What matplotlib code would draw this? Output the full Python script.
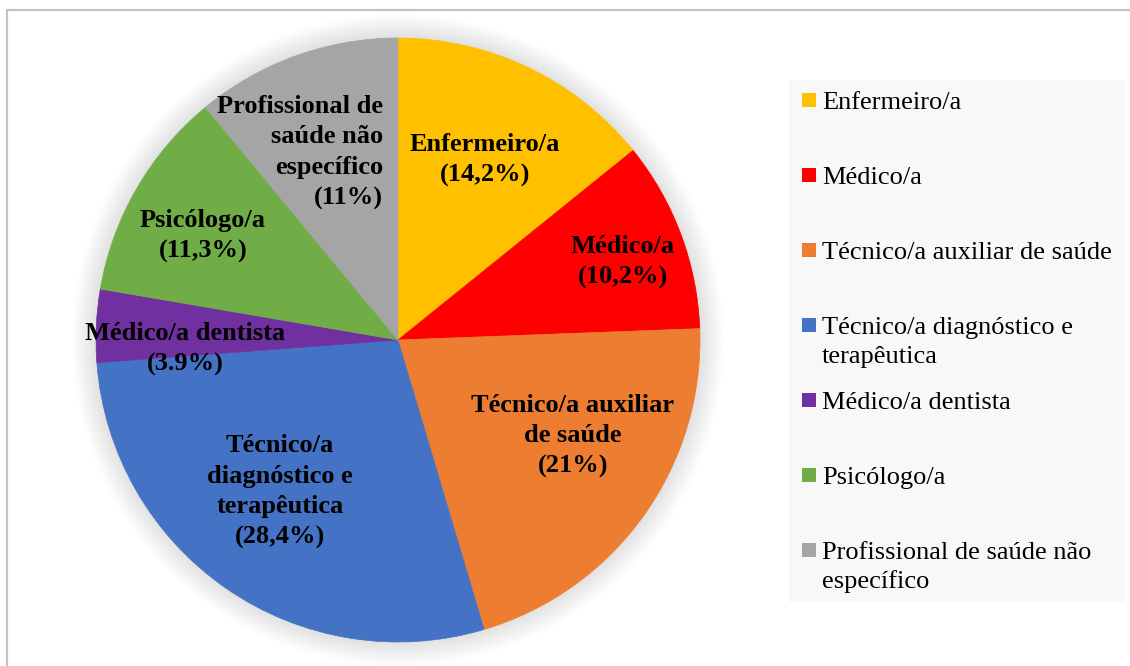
import matplotlib
matplotlib.use("Agg")
import matplotlib.pyplot as plt
from matplotlib.patches import Rectangle, Circle
from matplotlib.transforms import offset_copy

# ---------------- data ----------------
categories = ["Enfermeiro/a", "Médico/a", "Técnico/a auxiliar de saúde",
              "Técnico/a diagnóstico e terapêutica", "Médico/a dentista",
              "Psicólogo/a", "Profissional de saúde não específico"]
values = [14.2, 10.2, 21.0, 28.4, 3.9, 11.3, 11.0]
pct_labels = ["14,2%", "10,2%", "21%", "28,4%", "3.9%", "11,3%", "11%"]
slice_label_lines = [["Enfermeiro/a"], ["Médico/a"],
                     ["Técnico/a auxiliar", "de saúde"],
                     ["Técnico/a", "diagnóstico e", "terapêutica"],
                     ["Médico/a dentista"], ["Psicólogo/a"],
                     ["Profissional de", "saúde não", "específico"]]
legend_lines = [["Enfermeiro/a"], ["Médico/a"], ["Técnico/a auxiliar de saúde"],
                ["Técnico/a diagnóstico e", "terapêutica"], ["Médico/a dentista"],
                ["Psicólogo/a"], ["Profissional de saúde não", "específico"]]
colors = ["#FFC000", "#FF0000", "#ED7D31", "#4472C4", "#7030A0", "#70AD47", "#A5A5A5"]

# ---------------- layout / style ----------------
W, H = 1130, 666
FONT = "Liberation Serif"
FS = 19
# label anchors (first-line baseline, pie radius units) and alignment
label_pos = [(0.288, 0.626, "center"), (0.745, 0.288, "center"),
             (0.579, -0.238, "center"), (-0.391, -0.371, "center"),
             (-0.705, 0.000, "center"), (-0.646, 0.374, "center"),
             (-0.050, 0.752, "right")]
LINE_STEP = 30.5

fig = plt.figure(figsize=(W / 100, H / 100), dpi=100)
fig.patch.set_facecolor("white")

bg = fig.add_axes([0, 0, 1, 1], zorder=0)
bg.set_xlim(0, W)
bg.set_ylim(H, 0)
bg.axis("off")

# chart-area border (top and left visible)
bg.plot([6.5, 6.5, W + 10], [H + 10, 9.5, 9.5], color="#c4c4c4", lw=1.6,
        solid_joinstyle="miter", clip_on=False)

# pie
cx, cy, R = 398, 340, 302
half = 332
ax = fig.add_axes([(cx - half) / W, (H - cy - half) / H, 2 * half / W, 2 * half / H], zorder=1)
ax.patch.set_alpha(0)
wedges, _ = ax.pie(values, colors=colors, startangle=90, counterclock=False,
                   radius=1.0, wedgeprops=dict(linewidth=0))
for w in wedges:
    w.set_edgecolor(w.get_facecolor())
    w.set_linewidth(0.5)
    w.set_zorder(2)

# soft glow around the pie
n_glow = 30
for k in range(n_glow):
    r = 1.0 + 0.08 * (1 - k / n_glow)
    ax.add_patch(Circle((0, 0), r, facecolor="black", edgecolor="none",
                        alpha=0.0045, zorder=0))

ax.set_xlim(-half / R, half / R)
ax.set_ylim(-half / R, half / R)
ax.set_aspect("equal")
ax.axis("off")

# slice labels
for lines, pct, (x0, y0, ha) in zip(slice_label_lines, pct_labels, label_pos):
    all_lines = lines + ["(" + pct + ")"]
    for j, line in enumerate(all_lines):
        t = offset_copy(ax.transData, fig=fig, x=0, y=-j * LINE_STEP, units="dots")
        ax.text(x0, y0, line, transform=t, ha=ha, va="baseline",
                fontsize=FS, fontweight="bold", family=FONT, color="black", zorder=5)

# legend
bg.add_patch(Rectangle((789, 80), 336, 522, facecolor="#f8f8f8", edgecolor="none"))
for i, (lines, col) in enumerate(zip(legend_lines, colors)):
    yc = 100 + 75 * i
    bg.add_patch(Rectangle((802, yc - 7), 14, 14, facecolor=col, edgecolor="none"))
    for j, line in enumerate(lines):
        bg.text(822, yc + 9 + j * 29, line, ha="left", va="baseline",
                fontsize=FS, family=FONT, color="black")

fig.savefig("out.png", dpi=100)
